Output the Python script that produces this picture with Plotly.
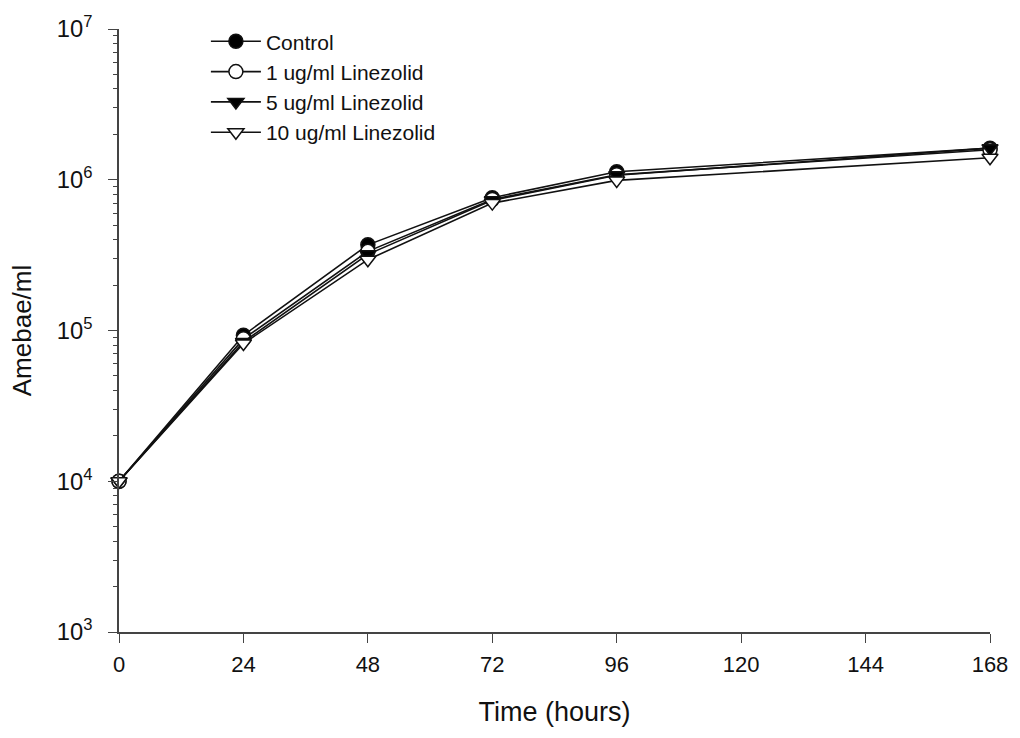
import plotly.graph_objects as go

hours = [0, 24, 48, 72, 96, 168]
control = [1.0e4, 9.3e4, 3.7e5, 7.6e5, 1.13e6, 1.62e6]
lin1 = [1.0e4, 8.8e4, 3.35e5, 7.4e5, 1.08e6, 1.58e6]
lin5 = [1.0e4, 8.4e4, 3.2e5, 7.3e5, 1.07e6, 1.62e6]
lin10 = [1.0e4, 8.2e4, 2.95e5, 7.0e5, 9.9e5, 1.40e6]

names = ["Control", "1 ug/ml Linezolid", "5 ug/ml Linezolid", "10 ug/ml Linezolid"]
series = [control, lin1, lin5, lin10]
symbols = ["circle", "circle", "triangle-down", "triangle-down"]
fills = ["black", "white", "black", "white"]

x_ticks = [0, 24, 48, 72, 96, 120, 144, 168]
y_minor = [k * 10 ** e for e in range(3, 7) for k in range(2, 10)]

fig = go.Figure()
for nm, ys, sym, fc in zip(names, series, symbols, fills):
    fig.add_trace(go.Scatter(
        x=hours, y=ys, name=nm, mode="lines+markers",
        line=dict(color="#111111", width=1.6),
        marker=dict(symbol=sym, size=14, color=fc, line=dict(color="#111111", width=1.5)),
        cliponaxis=False,
    ))

# invisible carrier trace for the minor-tick axis
fig.add_trace(go.Scatter(
    x=hours, y=control, yaxis="y2", mode="lines", showlegend=False,
    hoverinfo="skip", line=dict(color="rgba(0,0,0,0)", width=0),
))

axis_col = "#444444"
fig.update_layout(
    width=1020, height=738,
    margin=dict(l=119, r=29, t=19, b=106),
    paper_bgcolor="white", plot_bgcolor="white",
    font=dict(family="Liberation Sans, Arial, sans-serif", color="#111111", size=21),
    showlegend=True,
    legend=dict(
        x=(206 - 119) / 872, y=1.013, xanchor="left", yanchor="top",
        bgcolor="rgba(0,0,0,0)", font=dict(size=21),
        tracegroupgap=0, itemwidth=50,
    ),
    yaxis2=dict(
        type="log", range=[3, 7], overlaying="y", side="left", anchor="x",
        tickmode="array", tickvals=y_minor, showticklabels=False,
        ticks="outside", ticklen=5, tickwidth=1.1, tickcolor=axis_col,
        showline=False, showgrid=False, zeroline=False,
    ),
)
fig.update_xaxes(
    range=[0, 168], tickmode="array", tickvals=x_ticks,
    showline=True, linecolor=axis_col, linewidth=1.5,
    ticks="outside", ticklen=9, tickwidth=1.3, tickcolor=axis_col,
    showgrid=False, zeroline=False,
    tickfont=dict(size=22),
    ticklabelstandoff=3,
    title=dict(text="Time (hours)", font=dict(size=27), standoff=26),
)
fig.layout.yaxis.update(
    type="log", range=[3, 7], dtick=1, exponentformat="power", showexponent="all",
    showline=True, linecolor=axis_col, linewidth=1.5,
    ticks="outside", ticklen=9, tickwidth=1.3, tickcolor=axis_col,
    showgrid=False, zeroline=False,
    tickfont=dict(size=19),
    ticklabelstandoff=12,
    title=dict(text="Amebae/ml", font=dict(size=26), standoff=18),
)
fig.write_html("out.html")
